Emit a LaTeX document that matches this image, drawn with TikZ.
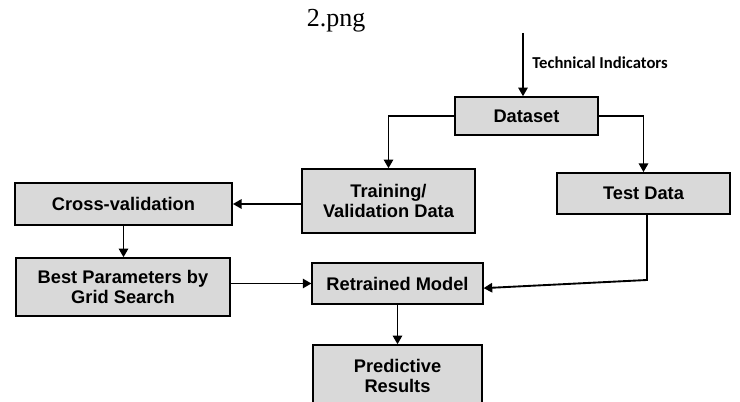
\documentclass[tikz,border=0pt]{standalone}
\usepackage{fontspec}
\setmainfont{Liberation Serif}
\setsansfont{Liberation Sans}
\newfontfamily\calibri{Carlito}
\usepackage{xcolor}
\usepackage{tikz}
\usetikzlibrary{arrows.meta}

\definecolor{boxgray}{HTML}{D9D9D9}

\tikzset{
  stage/.style={rectangle, draw=black, line width=1.1pt, fill=boxgray, align=center,
    font=\sffamily\bfseries\fontsize{13.7}{15.5}\selectfont, inner sep=0pt},
  flow/.style={->, line width=1.4pt}
}

\begin{document}
\begin{tikzpicture}[x=0.75pt, y=-0.75pt, >={Triangle[length=6.5pt,width=7pt]}]
\useasboundingbox (0,0) rectangle (740,402);

\node[font=\fontsize{19.5}{22}\selectfont] (title) at (336,21) {2.png};

\node[stage, minimum width=107pt, minimum height=28.5pt] (dataset) at (526.5,116) {Dataset};
\node[stage, minimum width=130pt, minimum height=48pt] (train) at (388.5,201) {Training/\\Validation Data};
\node[stage, minimum width=130pt, minimum height=31pt] (test) at (643.5,193.5) {Test Data};
\node[stage, minimum width=163pt, minimum height=31.5pt] (cross) at (123.5,204) {Cross-validation};
\node[stage, minimum width=160.5pt, minimum height=43.5pt] (best) at (123,287) {Best Parameters by\\Grid Search};
\node[stage, minimum width=128pt, minimum height=31pt] (retrained) at (397.5,283.5) {Retrained Model};
\node[stage, minimum width=127pt, minimum height=46.5pt] (predict) at (397.5,376) {Predictive\\Results};

\coordinate (input) at (523,33);
\coordinate (bend) at (647,280);

\draw[flow] (input) -- (input |- dataset.north)
  node[pos=0.47, right=3pt, font=\calibri\bfseries\fontsize{12.5}{15}\selectfont] (ti) {Technical Indicators};
\draw[flow] (dataset.west) -| (train.north);
\draw[flow] (dataset.east) -| (test.north);
\draw[flow] (train.west |- cross) -- (cross.east);
\draw[flow] (cross.south) -- (cross.south |- best.north);
\draw[flow] (best.east |- retrained) -- (retrained.west);
\draw[flow] (test.south -| bend) -- (bend) -- ([yshift=-3.5pt]retrained.east);
\draw[flow] (retrained.south) -- (predict.north);
\end{tikzpicture}
\end{document}
